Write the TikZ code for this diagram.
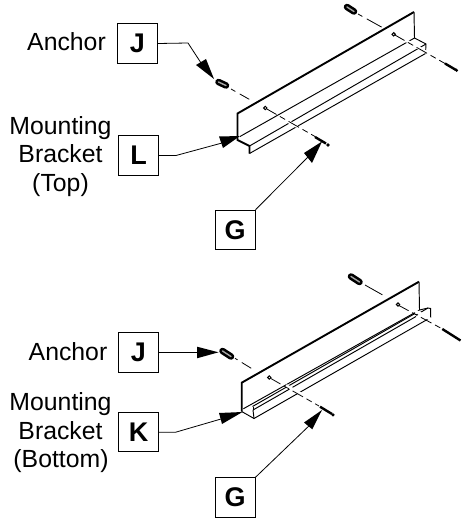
\documentclass[tikz,border=0pt]{standalone}
\usepackage{fontspec}
\setmainfont{Liberation Sans}
\tikzset{
  x=1pt,y=-1pt,
  lab/.style={font=\fontsize{24.8}{29}\selectfont,align=center,inner sep=0pt},
  refbox/.style={draw=black,line width=1pt,minimum width=40pt,minimum height=39.5pt,inner sep=0pt,font=\fontsize{27}{27}\selectfont\bfseries},
  lead/.style={line width=0.8pt},
  head/.style={fill=black,draw=none},
  edge/.style={line width=0.95pt},
  heavy/.style={line width=1.9pt},
  axis/.style={line width=0.8pt,dash pattern=on 12pt off 4pt on 6pt off 4pt},
  anchorpin/.style={line width=6.5pt,line cap=round,black},
  anchorcore/.style={line width=1.4pt,white!65!black,line cap=round},
  screw/.style={line width=2.4pt},
}
\begin{document}
\begin{tikzpicture}
\useasboundingbox (0,0) rectangle (462,519);
% ---- top assembly
\node[lab,anchor=base] (tA) at (66.5,50.7) {Anchor};
\node[lab,anchor=base] (tM1) at (60.5,134) {Mounting};
\node[lab,anchor=base] (tM2) at (60.5,162.7) {Bracket};
\node[lab,anchor=base] (tM3) at (60.5,191) {(Top)};
\node[refbox] (tJ) at (137.5,43.5) {J};
\node[refbox] (tL) at (138.5,155.5) {L};
\node[refbox] (tG) at (235,230) {G};
\coordinate (tJe) at (188,43);
\coordinate (tJh) at (203,66);
\coordinate (tLe) at (176,155.5);
\coordinate (tLh) at (222,143);
\coordinate (tGh) at (310,155);
% bracket
\draw[heavy] (237.5,136.5) -- (237.5,113.5) -- (414,12);
\draw[edge] (414,12) -- (414.5,38);
\draw[edge] (240,136.5) -- (414.5,38) -- (426,44) -- (425.5,53.5);
\draw[edge] (249.5,146) -- (426,44);
\draw[edge] (249.5,153.5) -- (425.5,53.5);
\draw[heavy] (237.5,136.5) -- (237.5,140) -- (249.5,146) -- (249.5,153.5);
% axes
\draw[white,line width=3pt] (282,118) -- (297,126.5);
\draw[white,line width=3pt] (405,40) -- (428,53);
\coordinate (tA1) at (231,89);
\coordinate (tA2) at (254,102);
\coordinate (tA3) at (266,108.5);
\coordinate (tA4) at (315,136.5);
\draw[line width=0.8pt,dash pattern=on 5pt off 5pt on 11pt off 20pt] (tA1) -- (tA2);
\draw[axis] (tA3) -- (tA4);
\coordinate (tB1) at (358,14);
\coordinate (tB2) at (385,29);
\coordinate (tB3) at (394,34.5);
\coordinate (tB4) at (445,63.5);
\draw[line width=0.8pt,dash pattern=on 5pt off 5pt on 17pt off 20pt] (tB1) -- (tB2);
\draw[axis] (tB3) -- (tB4);
\draw[fill=white,line width=1pt] (265.3,108) circle (1.7);
\draw[fill=white,line width=1pt] (393.7,34.3) circle (1.7);
% anchors
\draw[anchorpin] (218.5,82) -- (226,85.5);
\draw[anchorcore] (218.5,82) -- (226,85.5);
\draw[anchorpin] (347,7) -- (354,11.5);
\draw[anchorcore] (347,7) -- (354,11.5);
% screws
\draw[screw] (315,137) -- (326,143.5);
\fill (328,145) circle (1.9);
\draw[screw] (445,63.5) -- (456,70);
\fill (456.5,70.3) circle (1.7);
% leaders
\draw[lead] (tJ.east) -- (tJe) -- (tJh);
\fill[head] (214,79) -- (196,65) -- (206,59) -- cycle;
\draw[lead] (tL.east) -- (tLe) -- (tLh);
\fill[head] (240,136) -- (219,136.5) -- (223,148) -- cycle;
\draw[lead] (tG.north east) -- (tGh);
\fill[head] (322,141.5) -- (304,153) -- (312,163) -- cycle;
% ---- bottom assembly
\node[lab,anchor=base] (bA) at (68,360) {Anchor};
\node[lab,anchor=base] (bM1) at (60.5,410.7) {Mounting};
\node[lab,anchor=base] (bM2) at (60.5,439) {Bracket};
\node[lab,anchor=base] (bM3) at (61,467.7) {(Bottom)};
\node[refbox] (bJ) at (138.5,352.5) {J};
\node[refbox] (bK) at (138.5,432.2) {K};
\node[refbox] (bG) at (235,497.5) {G};
\coordinate (bJh) at (198,352.5);
\coordinate (bKe) at (175.7,432.2);
\coordinate (bKh) at (221,419);
\coordinate (bGh) at (312,423);
% bracket
\draw[heavy] (241.7,411.5) -- (241.7,382.7) -- (419,281.7);
\draw[edge] (419,281.7) -- (419.5,310);
\draw[edge] (243.3,408.8) -- (419.5,310);
\draw[edge] (241.7,411.5) -- (254,418.5) -- (430.7,317.5) -- (430.7,308.5) -- (428,308) -- (416,315);
\draw[edge] (253,410) -- (254,418.5);
\draw[edge] (253,410) -- (416,316.5);
\draw[edge] (252.5,406.5) -- (415,313.5);
\draw[edge] (253,406.5) -- (253,410);
\draw[edge] (419.5,310) -- (428,308);
% axes
\draw[white,line width=3pt] (286,385.5) -- (301,394);
\draw[white,line width=3pt] (408,307) -- (432,320);
\coordinate (bA3) at (270,378);
\coordinate (bA4) at (319,406);
\coordinate (bA1) at (235,358.3);
\coordinate (bA2) at (254,370);
\coordinate (bB1) at (365,285);
\coordinate (bB2) at (382.7,295);
\coordinate (bB3) at (398,305);
\coordinate (bB4) at (442.5,329);
\draw[line width=0.8pt,dash pattern=on 3pt off 5pt on 11pt off 20pt] (bA1) -- (bA2);
\draw[axis] (bA3) -- (bA4);
\draw[line width=0.8pt,dash pattern=on 20pt off 20pt] (bB1) -- (bB2);
\draw[axis] (bB3) -- (bB4);
\draw[fill=white,line width=1pt] (269.3,377.5) circle (1.7);
\draw[fill=white,line width=1pt] (398,304.5) circle (1.7);
% anchors
\draw[anchorpin] (222.5,351) -- (231,356.5);
\draw[anchorcore] (222.5,351) -- (231,356.5);
\draw[anchorpin] (351,276.5) -- (359.5,282);
\draw[anchorcore] (351,276.5) -- (359.5,282);
% screws
\draw[screw] (320,406.7) -- (332,414);
\fill (333,414.8) circle (1.8);
\draw[screw] (442.3,329) -- (460.5,340.5);
% leaders
\draw[lead] (bJ.east) -- (bJh);
\fill[head] (218.5,352.3) -- (197,346.7) -- (197,358.3) -- cycle;
\draw[lead] (bK.east) -- (bKe) -- (bKh);
\fill[head] (242.5,412) -- (219,413) -- (222,424) -- cycle;
\draw[lead] (bG.north east) -- (bGh);
\fill[head] (322,410) -- (304,422.5) -- (312.3,429.3) -- cycle;
\end{tikzpicture}
\end{document}
